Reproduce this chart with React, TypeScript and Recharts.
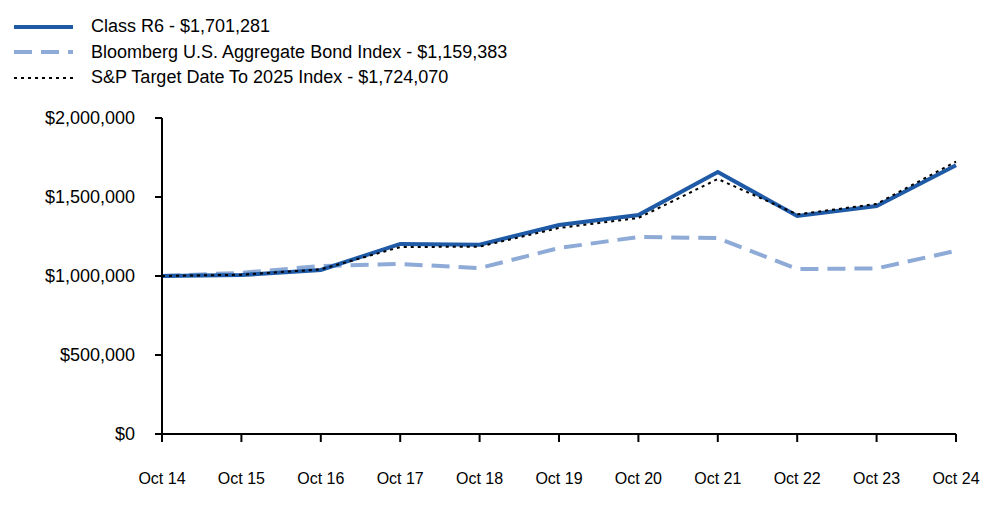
import React from 'react';
import { LineChart, Line, XAxis, YAxis } from 'recharts';

const years = ['Oct 14', 'Oct 15', 'Oct 16', 'Oct 17', 'Oct 18', 'Oct 19', 'Oct 20', 'Oct 21', 'Oct 22', 'Oct 23', 'Oct 24'];
const classR6 = [1000000, 1006000, 1038000, 1203000, 1198000, 1323000, 1386000, 1658000, 1380000, 1443000, 1701281];
const bloomberg = [1000000, 1020000, 1063000, 1076000, 1050000, 1177000, 1247000, 1240000, 1044000, 1048000, 1159383];
const spTarget = [1000000, 1008000, 1042000, 1183000, 1186000, 1304000, 1367000, 1614000, 1390000, 1456000, 1724070];
const yTicks = [0, 500000, 1000000, 1500000, 2000000];

const series = [
  { key: 'bloomberg', name: 'Bloomberg U.S. Aggregate Bond Index - $1,159,383', color: '#8eaad6', width: 4, dash: '18 9' },
  { key: 'classR6', name: 'Class R6 - $1,701,281', color: '#1f5aa6', width: 4, dash: undefined },
  { key: 'spTarget', name: 'S&P Target Date To 2025 Index - $1,724,070', color: '#000000', width: 2, dash: '3 4' },
];
const legendOrder = ['classR6', 'bloomberg', 'spTarget'];

const data = years.map((name, i) => ({
  name,
  classR6: classR6[i],
  bloomberg: bloomberg[i],
  spTarget: spTarget[i],
}));

const fmt = (v: number) => '$' + v.toLocaleString('en-US');
const font = 'Arial, "Liberation Sans", sans-serif';

const LegendBox = () => (
  <div style={{ position: 'absolute', top: 14, left: 0, fontFamily: font, fontSize: 18, color: '#000' }}>
    {legendOrder.map(k => {
      const s = series.find(x => x.key === k)!;
      return (
        <div key={k} style={{ display: 'flex', alignItems: 'center', height: 25.5 }}>
          <svg width={77} height={10} style={{ marginLeft: 14 }}>
            <line x1={0} y1={5} x2={59} y2={5} stroke={s.color} strokeWidth={s.width} strokeDasharray={s.dash} />
          </svg>
          <span>{s.name}</span>
        </div>
      );
    })}
  </div>
);

export default function App() {
  return (
    <div style={{ position: 'absolute', left: 0, top: 0, width: 1000, height: 523, background: '#fff' }}>
      <LineChart width={1000} height={523} data={data} margin={{ top: 118, right: 44, left: 0, bottom: 29 }}>
        <XAxis
          dataKey="name"
          height={60}
          interval={0}
          tickSize={8}
          tickMargin={31}
          axisLine={{ stroke: '#000', strokeWidth: 2 }}
          tickLine={{ stroke: '#000', strokeWidth: 2 }}
          tick={{ fill: '#000', fontSize: 16, fontFamily: font }}
        />
        <YAxis
          width={162}
          domain={[0, 2000000]}
          ticks={yTicks}
          tickFormatter={fmt}
          tickSize={7}
          tickMargin={20}
          axisLine={{ stroke: '#000', strokeWidth: 2 }}
          tickLine={{ stroke: '#000', strokeWidth: 2 }}
          tick={{ fill: '#000', fontSize: 18, fontFamily: font }}
        />
        {series.map(s => (
          <Line
            key={s.key}
            dataKey={s.key}
            name={s.name}
            stroke={s.color}
            strokeWidth={s.width}
            strokeDasharray={s.dash}
            dot={false}
            activeDot={false}
            type="linear"
            isAnimationActive={false}
          />
        ))}
      </LineChart>
      <LegendBox />
    </div>
  );
}
